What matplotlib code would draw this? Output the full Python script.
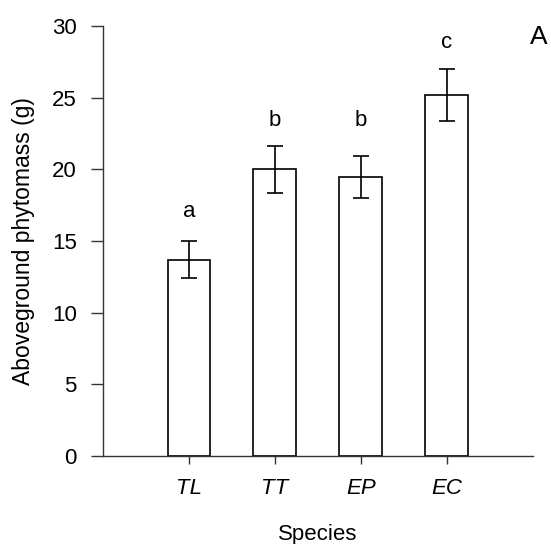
import numpy as np
import matplotlib
matplotlib.use("Agg")
import matplotlib.pyplot as plt

plt.rcParams['font.family'] = ['Liberation Sans', 'DejaVu Sans']

# data
species = ['TL', 'TT', 'EP', 'EC']
biomass = [13.7, 20.0, 19.45, 25.2]
se = [1.3, 1.65, 1.47, 1.8]
letters = ['a', 'b', 'b', 'c']
letter_y = [16.3, 22.7, 22.7, 28.1]

fig = plt.figure(figsize=(5.51, 5.44), dpi=100)
ax = fig.add_axes([0.187, 0.162, 0.78, 0.79])

x = np.arange(1, len(species) + 1)
ax.bar(x, biomass, width=0.5, color='white', edgecolor='black', linewidth=1.2, zorder=2)
ax.errorbar(x, biomass, yerr=se, fmt='none', ecolor='black', elinewidth=1.2,
            capsize=5.8, capthick=1.2, zorder=3)

for xi, lab, ly in zip(x, letters, letter_y):
    ax.text(xi, ly, lab, ha='center', va='bottom', fontsize=16)

ax.set_xlim(0, 5)
ax.set_ylim(0, 30)
ax.set_yticks([0, 5, 10, 15, 20, 25, 30])
ax.set_xticks(x)
ax.set_xticklabels(species, fontstyle='italic')
ax.tick_params(axis='y', direction='out', length=9, width=1, labelsize=16, pad=10, color='#333333')
ax.tick_params(axis='x', direction='out', length=6, width=1, labelsize=16, pad=10, color='#333333')

ax.spines['top'].set_visible(False)
ax.spines['right'].set_visible(False)
for s in ['left', 'bottom']:
    ax.spines[s].set_color('#333333')
    ax.spines[s].set_linewidth(1)

ax.set_ylabel('Aboveground phytomass (g)', fontsize=16.5, labelpad=12)
ax.set_xlabel('Species', fontsize=16, labelpad=18)

fig.text(0.978, 0.932, 'A', fontsize=19, ha='center', va='center')

fig.savefig('out.png', dpi=100)
